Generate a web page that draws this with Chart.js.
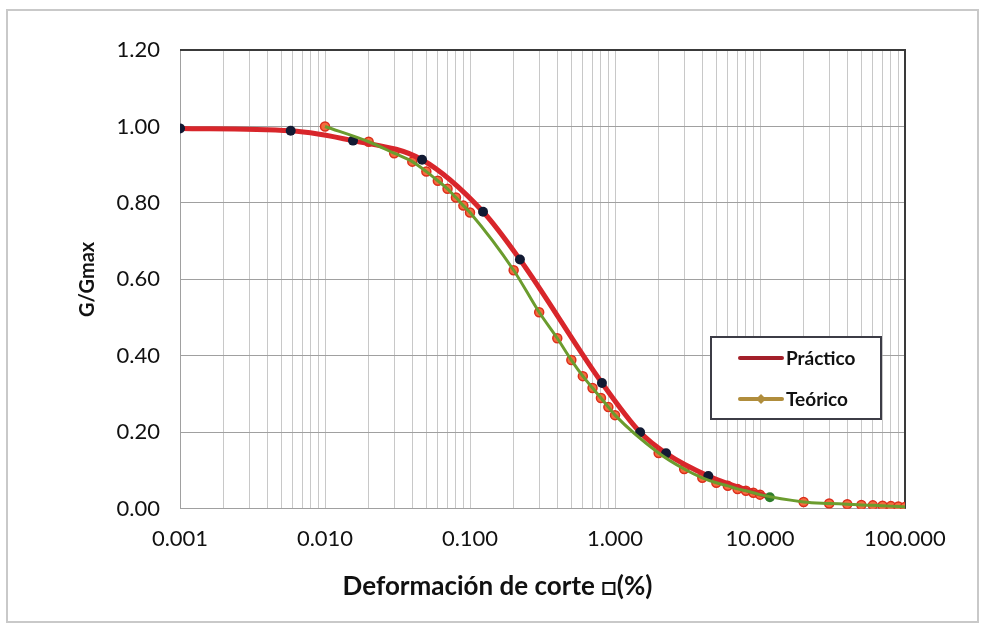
<!DOCTYPE html>
<html>
<head>
<meta charset="utf-8">
<title>G/Gmax</title>
<script src="https://cdn.jsdelivr.net/npm/chart.js@4.4.1/dist/chart.umd.min.js"></script>
<style>
  html, body { margin: 0; padding: 0; background: #fff; }
  #wrap { position: relative; width: 984px; height: 626px; }
  #frame { position: absolute; left: 6px; top: 9px; width: 969px; height: 610px; border: 2px solid #c9c9c9; }
  canvas { position: absolute; left: 0; top: 0; }
</style>
</head>
<body>
<div id="wrap">
  <div id="frame"></div>
  <canvas id="chart" width="984" height="626"></canvas>
</div>
<script>
// Práctico: ensayo, puntos medidos
const practicoX = [0.001, 0.0058, 0.0156, 0.0467, 0.123, 0.221, 0.813, 1.49, 2.25, 4.4, 11.7];
const practicoY = [0.995, 0.989, 0.963, 0.913, 0.777, 0.652, 0.329, 0.200, 0.145, 0.086, 0.030];

// Teórico: curva de referencia
const teoricoX = [
  0.01, 0.02, 0.03, 0.04, 0.05, 0.06, 0.07, 0.08, 0.09,
  0.1, 0.2, 0.3, 0.4, 0.5, 0.6, 0.7, 0.8, 0.9,
  1, 2, 3, 4, 5, 6, 7, 8, 9,
  10, 20, 30, 40, 50, 60, 70, 80, 90,
  100
];
const teoricoY = [
  1.000, 0.960, 0.930, 0.908, 0.882, 0.858, 0.837, 0.814, 0.793,
  0.775, 0.624, 0.514, 0.446, 0.389, 0.347, 0.316, 0.290, 0.266,
  0.245, 0.146, 0.104, 0.081, 0.068, 0.060, 0.052, 0.047, 0.042,
  0.037, 0.018, 0.014, 0.012, 0.010, 0.009, 0.008, 0.007, 0.006,
  0.005
];

const xDecades = [0.001, 0.01, 0.1, 1, 10, 100];
const yTicks = [0, 0.2, 0.4, 0.6, 0.8, 1.0, 1.2];

const seriesNames = ['Práctico', 'Teórico'];
const legendColors = ['#a3202a', '#b08d3c'];

const toPoints = (xs, ys) => xs.map((x, i) => ({ x: x, y: ys[i] }));

// vertical grid at 1..9 of each decade
const xGrid = [];
xDecades.forEach((d, i) => {
  if (i === xDecades.length - 1) { xGrid.push(d); return; }
  for (let k = 1; k <= 9; k++) xGrid.push(+(d * k).toPrecision(6));
});
const isDecade = v => Math.abs(Math.log10(v) - Math.round(Math.log10(v))) < 1e-9;

const FONT = 'Lato, "Open Sans", sans-serif';

// plot frame: dark top and right edges
const plotFrame = {
  id: 'plotFrame',
  beforeDatasetsDraw(chart) {
    const { ctx, chartArea: a } = chart;
    ctx.save();
    ctx.strokeStyle = '#3a3a3a';
    ctx.lineWidth = 2;
    ctx.beginPath();
    ctx.moveTo(a.left, a.top);
    ctx.lineTo(a.right, a.top);
    ctx.lineTo(a.right, a.bottom);
    ctx.stroke();
    ctx.restore();
  }
};

// boxed legend inside the plot
const boxLegend = {
  id: 'boxLegend',
  afterDraw(chart) {
    const { ctx } = chart;
    const x0 = 711, y0 = 337, w = 170, h = 82;
    ctx.save();
    ctx.fillStyle = '#fff';
    ctx.fillRect(x0, y0, w, h);
    ctx.strokeStyle = '#3c3c46';
    ctx.lineWidth = 2;
    ctx.strokeRect(x0, y0, w, h);
    ctx.font = 'bold 19px ' + FONT;
    ctx.textBaseline = 'middle';
    seriesNames.forEach((name, i) => {
      const y = y0 + 21 + i * 41;
      ctx.strokeStyle = legendColors[i];
      ctx.lineWidth = 4;
      ctx.lineCap = 'round';
      ctx.beginPath();
      ctx.moveTo(740, y);
      ctx.lineTo(782, y);
      ctx.stroke();
      if (i === 1) {
        ctx.fillStyle = legendColors[i];
        ctx.beginPath();
        ctx.moveTo(761, y - 5);
        ctx.lineTo(766, y);
        ctx.lineTo(761, y + 5);
        ctx.lineTo(756, y);
        ctx.closePath();
        ctx.fill();
      }
      ctx.fillStyle = '#111';
      ctx.fillText(name, 786, y + 1);
    });
    ctx.restore();
  }
};

new Chart(document.getElementById('chart').getContext('2d'), {
  type: 'line',
  data: {
    datasets: [
      {
        label: seriesNames[1],
        data: toPoints(teoricoX, teoricoY),
        borderColor: '#6b9c2e',
        borderWidth: 3,
        pointRadius: 0,
        cubicInterpolationMode: 'monotone',
        fill: false
      },
      {
        label: seriesNames[0],
        data: toPoints(practicoX, practicoY),
        borderColor: '#d8262b',
        borderWidth: 5,
        pointRadius: 5,
        pointBorderWidth: 0,
        pointBackgroundColor: c => c.dataIndex === practicoX.length - 1 ? '#2f7d2a' : '#121a33',
        cubicInterpolationMode: 'monotone',
        fill: false
      },
      {
        data: toPoints(teoricoX, teoricoY),
        showLine: false,
        pointRadius: 4.5,
        pointBorderWidth: 1.5,
        pointBackgroundColor: '#f46c3e',
        pointBorderColor: '#dc2e1c'
      }
    ]
  },
  options: {
    responsive: false,
    animation: false,
    layout: { padding: { left: 90, top: 50, right: 79, bottom: 0 } },
    plugins: {
      legend: { display: false },
      tooltip: { enabled: false },
      title: {
        display: true,
        position: 'bottom',
        text: 'Deformación de corte \u25A1(%)',
        color: '#111',
        font: { family: FONT, size: 26, weight: 'bold' },
        padding: { top: 0, bottom: 24 }
      }
    },
    scales: {
      x: {
        type: 'logarithmic',
        min: 0.001,
        max: 100,
        afterBuildTicks: s => { s.ticks = xGrid.map(v => ({ value: v, major: isDecade(v) })); },
        afterFit: s => { s.height = 62; },
        ticks: {
          autoSkip: false,
          maxRotation: 0,
          padding: 17,
          color: '#111',
          font: { family: FONT, size: 22 },
          callback: v => isDecade(v) ? v.toFixed(3) : ''
        },
        grid: { color: '#c8c8c8', lineWidth: 1, drawTicks: false },
        border: { color: '#a0a0a0', width: 1 }
      },
      y: {
        min: 0,
        max: 1.2,
        afterBuildTicks: s => { s.ticks = yTicks.map(v => ({ value: v })); },
        afterFit: s => { s.width = 90; },
        ticks: {
          padding: 20,
          color: '#111',
          font: { family: FONT, size: 22 },
          callback: v => v.toFixed(2)
        },
        grid: { color: '#a0a0a0', lineWidth: 1, drawTicks: false },
        border: { color: '#a0a0a0', width: 1 },
        title: {
          display: true,
          text: 'G/Gmax',
          color: '#111',
          font: { family: FONT, size: 20, weight: 'bold' },
          padding: { top: -14, bottom: 0 }
        }
      }
    }
  },
  plugins: [plotFrame, boxLegend]
});
</script>
</body>
</html>
